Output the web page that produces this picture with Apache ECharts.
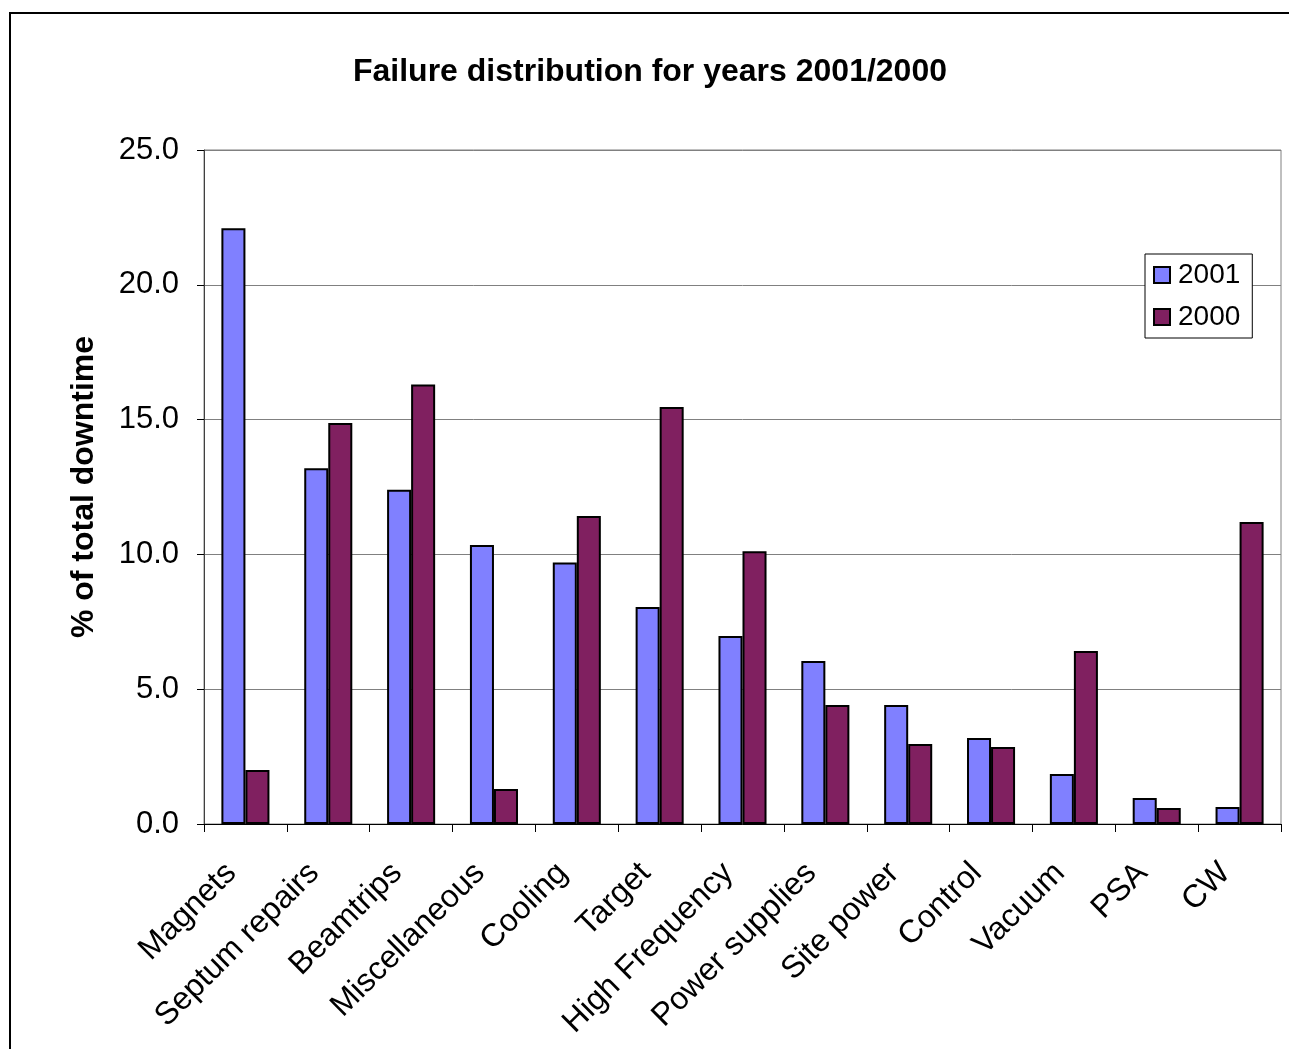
<!DOCTYPE html>
<html>
<head>
<meta charset="utf-8">
<script src="https://cdn.jsdelivr.net/npm/echarts@6/dist/echarts.min.js"></script>
<style>
  html, body { margin: 0; padding: 0; background: #fff; }
  #chart { width: 1289px; height: 1049px; }
</style>
</head>
<body>
<div id="chart"></div>
<script>
// Downtime categories and their share of total downtime (%)
const categories = ['Magnets', 'Septum repairs', 'Beamtrips', 'Miscellaneous', 'Cooling', 'Target',
  'High Frequency', 'Power supplies', 'Site power', 'Control', 'Vacuum', 'PSA', 'CW'];
const values2001 = [22.1, 13.2, 12.4, 10.35, 9.7, 8.05, 6.97, 6.05, 4.41, 3.19, 1.85, 0.96, 0.63];
const values2000 = [2.0, 14.87, 16.3, 1.3, 11.42, 15.47, 10.12, 4.41, 2.97, 2.86, 6.42, 0.59, 11.2];
const yTicks = [0, 5, 10, 15, 20, 25];

const FONT = 'Liberation Sans, Arial, sans-serif';
const chart = echarts.init(document.getElementById('chart'));

chart.setOption({
  backgroundColor: '#ffffff',
  animation: false,
  title: {
    text: 'Failure distribution for years 2001/2000',
    left: 645, top: 51, textAlign: 'center',
    textStyle: { fontFamily: FONT, fontWeight: 'bold', fontSize: 32, color: '#000' }
  },
  legend: {
    orient: 'vertical',
    left: 1145, top: 254,
    backgroundColor: '#fff',
    borderColor: '#000', borderWidth: 1,
    padding: [7, 12, 7, 8],
    itemGap: 14,
    itemWidth: 16, itemHeight: 16,
    icon: 'rect',
    textStyle: { fontFamily: FONT, fontSize: 28, color: '#000', padding: [0, 0, 0, 3] },
    data: ['2001', '2000']
  },
  grid: {
    left: 204, right: 8, top: 150, bottom: 225,
    show: true, borderColor: '#808080', borderWidth: 1,
    containLabel: false
  },
  xAxis: {
    type: 'category',
    data: categories,
    axisLine: { lineStyle: { color: '#000', width: 1 } },
    axisTick: { show: true, length: 8, lineStyle: { color: '#000' } },
    axisLabel: {
      rotate: 45, margin: 30, interval: 0,
      padding: [0, 20, 0, 0],
      fontFamily: FONT, fontSize: 32, color: '#000'
    }
  },
  yAxis: {
    type: 'value',
    min: yTicks[0], max: yTicks[yTicks.length - 1], interval: 5,
    name: '% of total downtime',
    nameLocation: 'middle', nameGap: 104, nameRotate: 90,
    nameTextStyle: { fontFamily: FONT, fontWeight: 'bold', fontSize: 32, color: '#000' },
    axisLine: { show: true, lineStyle: { color: '#404040', width: 1 } },
    axisTick: { show: true, length: 7, lineStyle: { color: '#000' } },
    axisLabel: {
      margin: 25, fontFamily: FONT, fontSize: 31, color: '#000',
      formatter: v => v.toFixed(1)
    },
    splitLine: { show: true, lineStyle: { color: '#808080', width: 1 } }
  },
  series: [
    {
      name: '2001', type: 'bar', data: values2001,
      barGap: '0%', barCategoryGap: '42%',
      itemStyle: { color: '#8080FF', borderColor: '#000', borderWidth: 2 }
    },
    {
      name: '2000', type: 'bar', data: values2000,
      itemStyle: { color: '#802060', borderColor: '#000', borderWidth: 2 }
    }
  ],
  graphic: [
    {
      type: 'rect', silent: true, z: -1,
      shape: { x: 10, y: 13, width: 1300, height: 1100 },
      style: { fill: 'none', stroke: '#000', lineWidth: 2 }
    }
  ]
});
</script>
</body>
</html>
